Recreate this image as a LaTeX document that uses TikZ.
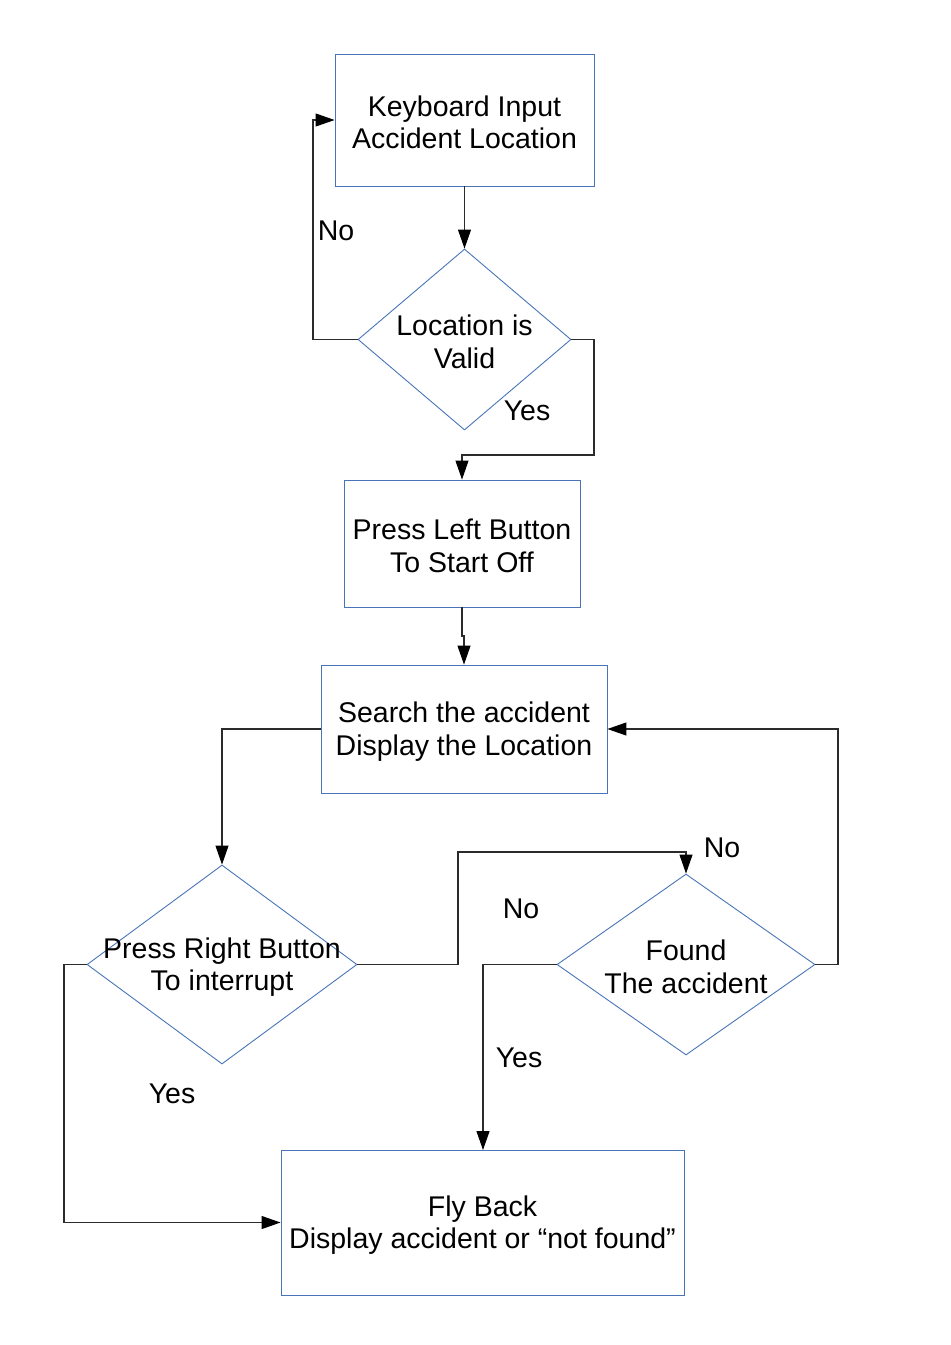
\documentclass[tikz,border=0pt]{standalone}
\usepackage{fontspec}
\setmainfont{Liberation Sans}
\usetikzlibrary{shapes.geometric,arrows.meta}
\definecolor{boxblue}{HTML}{4A74B8}
\definecolor{linegray}{HTML}{2B2B2B}
\begin{document}
\begin{tikzpicture}[x=1pt,y=-1pt,
  every node/.style={font=\fontsize{28.5}{32.5}\selectfont},
  procbox/.style={draw=boxblue,line width=0.9pt,rectangle,inner sep=0pt},
  decbox/.style={draw=boxblue,line width=0.9pt,diamond,inner sep=0pt},
  txt/.style={align=center,inner sep=0pt,yshift=-2.5pt},
  lbl/.style={inner sep=0pt},
  conn/.style={draw=linegray,line width=1.1pt,-{Triangle[length=19pt,width=13pt,fill=black,color=black]}},
  plain/.style={draw=linegray,line width=1.1pt}]
\useasboundingbox (0,0) rectangle (951,1345);
% boxes
\node[procbox,minimum width=259pt,minimum height=132pt] (b1) at (464.5,120) {};
\node[txt] at (b1) {Keyboard Input\\Accident Location};
\node[decbox,minimum width=213pt,minimum height=181pt] (d1) at (464.5,339.5) {};
\node[txt] at (d1) {Location is\\Valid};
\node[procbox,minimum width=236pt,minimum height=127pt] (b2) at (462,543.5) {};
\node[txt] at (b2) {Press Left Button\\To Start Off};
\node[procbox,minimum width=286pt,minimum height=128pt] (b3) at (464,729) {};
\node[txt] at (b3) {Search the accident\\Display the Location};
\node[decbox,minimum width=270pt,minimum height=199pt] (d2) at (222,964.5) {};
\node[txt] at (d2) {Press Right Button\\To interrupt};
\node[decbox,minimum width=258pt,minimum height=181pt] (d3) at (686,964.5) {};
\node[txt] at (d3) {Found\\The accident};
\node[procbox,minimum width=403pt,minimum height=145pt] (b4) at (482.5,1222.5) {};
\node[txt] at (b4) {Fly Back\\Display accident or “not found”};
% labels
\node[lbl] (l1) at (336,231) {No};
\node[lbl] (l2) at (527,411) {Yes};
\node[lbl] (l3) at (722,848) {No};
\node[lbl] (l4) at (521,909) {No};
\node[lbl] (l5) at (172,1094) {Yes};
\node[lbl] (l6) at (519,1058) {Yes};
% connectors
\draw[conn] (b1.south) -- (d1.north);
\draw[conn] (d1.west) -- (313,339.5) -- (313,120) -- (b1.west);
\draw[conn] (d1.east) -- (594,339.5) -- (594,455) -- (462,455) -- (b2.north);
\draw[conn] (b2.south) -- (462,636) -- (464,636) -- (b3.north);
\draw[conn] (b3.west) -- (222,729) -- (d2.north);
\draw[conn] (d2.east) -- (458,964.5) -- (458,852) -- (686,852) -- (d3.north);
\draw[conn] (d2.west) -- (64,964.5) -- (64,1222.5) -- (b4.west);
\draw[conn] (d3.west) -- (483,964.5) -- (483,1150);
\draw[conn] (d3.east) -- (838,964.5) -- (838,729) -- (b3.east);
\end{tikzpicture}
\end{document}
